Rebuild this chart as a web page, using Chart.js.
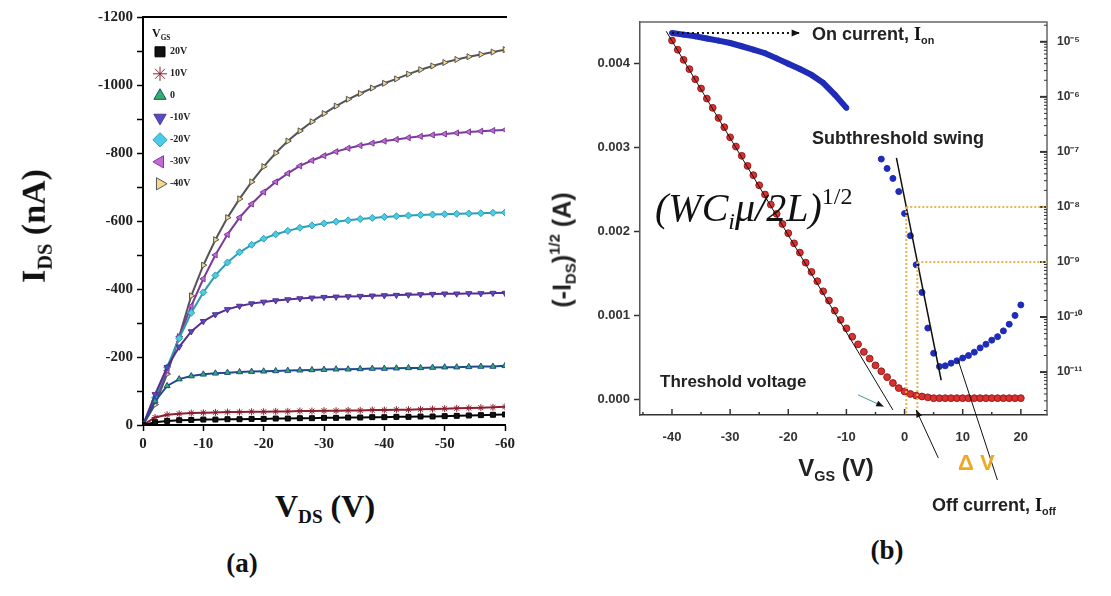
<!DOCTYPE html>
<html>
<head>
<meta charset="utf-8">
<script src="https://cdn.jsdelivr.net/npm/chart.js@4.4.1/dist/chart.umd.min.js"></script>
<style>
    body { margin: 0; background: #fff; }
    #page { position: relative; width: 1111px; height: 596px; overflow: hidden; background: #fff; }
    .box { position: absolute; }
    .t { position: absolute; white-space: nowrap; font-family: "Liberation Sans", Arial, sans-serif; font-weight: bold; color: #222; line-height: 1; }
    .serif { font-family: "Liberation Serif", "Times New Roman", serif; color: #111; }
    .t sub { font-size: 0.6em; vertical-align: -0.35em; }
    .t sup { font-size: 0.6em; vertical-align: 0.7em; }
</style>
</head>
<body>
<div id="page">
    <div class="box" style="left:0;top:0;width:540px;height:470px"><canvas id="outputChart" width="540" height="470"></canvas></div>
    <div class="box" style="left:540px;top:0;width:571px;height:480px"><canvas id="transferChart" width="571" height="480"></canvas></div>

    <!-- panel (a) text -->
    <div class="t serif" style="left:36px;top:226px;font-size:34px;transform:translate(-50%,-50%) rotate(-90deg)">I<sub>DS</sub> (nA)</div>
    <div class="t serif" style="left:325px;top:508px;font-size:32px;transform:translate(-50%,-50%)">V<sub>DS</sub> (V)</div>
    <div class="t serif" style="left:152px;top:27px;font-size:12px">V<sub>GS</sub></div>
    <div class="t serif" style="left:242px;top:563px;font-size:27px;transform:translate(-50%,-50%)">(a)</div>

    <!-- panel (b) text -->
    <div class="t" style="left:562px;top:250px;font-size:25px;transform:translate(-50%,-50%) rotate(-90deg)">(-I<sub>DS</sub>)<sup>1/2</sup> (A)</div>
    <div class="t" style="left:836px;top:470px;font-size:24px;transform:translate(-50%,-50%)">V<sub>GS</sub> (V)</div>
    <div class="t" style="left:812px;top:25px;font-size:18px">On current, <span class="serif">I</span><sub>on</sub></div>
    <div class="t" style="left:812px;top:129px;font-size:18px">Subthreshold swing</div>
    <div class="t serif" style="left:655px;top:184px;font-size:40px;font-weight:normal"><i>(WC<sub>i</sub>μ/2L)</i><sup>1/2</sup></div>
    <div class="t" style="left:660px;top:373px;font-size:17px">Threshold voltage</div>
    <div class="t" style="left:958px;top:452px;font-size:22px;color:#f0a820">Δ V</div>
    <div class="t" style="left:932px;top:496px;font-size:18px">Off current, <span class="serif">I</span><sub>off</sub></div>
    <div class="t serif" style="left:887px;top:550px;font-size:27px;transform:translate(-50%,-50%)">(b)</div>
</div>

<script>
// ---------- panel (a): output curves ----------
const vdsSweep = [0, -2, -4, -6, -8, -10, -12, -14, -16, -18, -20, -22, -24, -26, -28, -30,
    -32, -34, -36, -38, -40, -42, -44, -46, -48, -50, -52, -54, -56, -58, -60];
const gateLabels = ["20V", "10V", "0", "-10V", "-20V", "-30V", "-40V"];
const idsGate20 = [0, -8, -12, -14, -15, -16, -16, -17, -17, -18, -18, -19, -19, -20, -20, -21,
    -21, -22, -22, -23, -23, -24, -24, -25, -25, -26, -27, -28, -29, -30, -31];
const idsGate10 = [0, -22, -30, -33, -35, -36, -37, -38, -38, -39, -39, -40, -40, -41, -41, -42,
    -42, -43, -43, -44, -44, -45, -45, -46, -47, -48, -49, -50, -51, -52, -54];
const idsGate0 = [0, -70, -115, -135, -144, -149, -152, -154, -156, -157, -158, -159, -160, -161, -162, -163,
    -164, -164, -165, -166, -166, -167, -168, -168, -169, -170, -170, -171, -172, -172, -174];
const idsGateM10 = [0, -90, -170, -230, -275, -305, -325, -340, -350, -357, -362, -366, -369, -372, -374, -376,
    -377, -378, -379, -380, -381, -382, -383, -384, -385, -386, -386, -387, -387, -388, -388];
const idsGateM20 = [0, -80, -170, -255, -330, -390, -440, -478, -508, -530, -548, -561, -571, -580, -587, -593,
    -598, -602, -606, -609, -612, -614, -616, -618, -619, -620, -621, -622, -623, -624, -625];
const idsGateM30 = [0, -70, -160, -260, -350, -430, -500, -560, -610, -650, -685, -715, -740, -762, -778, -792,
    -804, -814, -822, -829, -835, -840, -845, -849, -853, -856, -859, -862, -864, -866, -868];
const idsGateM40 = [0, -60, -150, -260, -380, -470, -545, -610, -665, -715, -760, -800, -835, -865, -892, -916,
    -938, -958, -975, -991, -1005, -1018, -1032, -1045, -1056, -1066, -1075, -1083, -1090, -1097, -1104];
const outputTicksY = [0, -200, -400, -600, -800, -1000, -1200];

// ---------- panel (b): transfer curve ----------
const vgsSweep = [-40, -39, -38, -37, -36, -35, -34, -33, -32, -31, -30, -29, -28, -27, -26, -25, -24, -23, -22, -21,
    -20, -19, -18, -17, -16, -15, -14, -13, -12, -11, -10, -9, -8, -7, -6, -5, -4, -3, -2, -1,
    0, 1, 2, 3, 4, 5, 6, 7, 8, 9, 10, 11, 12, 13, 14, 15, 16, 17, 18, 19, 20];
const sqrtIds = [0.00427, 0.00416, 0.00404, 0.00393, 0.00381, 0.00370, 0.00358, 0.00347, 0.00335, 0.00324,
    0.00312, 0.00301, 0.00290, 0.00278, 0.00267, 0.00255, 0.00244, 0.00232, 0.00221, 0.00209,
    0.00198, 0.00186, 0.00175, 0.00163, 0.00152, 0.00141, 0.00129, 0.00118, 0.00106, 0.00095,
    0.00085, 0.00075, 0.00066, 0.00057, 0.00049, 0.00041, 0.00034, 0.00027, 0.00020, 0.00014,
    0.00010, 0.00007, 0.00005, 0.00004, 0.00003, 0.00002, 0.00002, 0.00002, 0.00002, 0.00002,
    0.00002, 0.00002, 0.00002, 0.00002, 0.00002, 0.00002, 0.00002, 0.00002, 0.00002, 0.00002, 0.00002];
const vgsOnBranch = [-40, -38, -36, -34, -32, -30, -28, -26, -24, -22, -20, -18, -16, -14, -12, -10];
const idsOnBranch = [1.45e-5, 1.35e-5, 1.26e-5, 1.15e-5, 1.05e-5, 9.5e-6, 8.3e-6, 7.2e-6, 6.2e-6, 5.0e-6,
    4.0e-6, 3.2e-6, 2.5e-6, 1.8e-6, 1.1e-6, 6.3e-7];
const vgsSubBranch = [-4, -3, -2, -1, 0, 1, 2, 3, 4, 5, 6, 7, 8, 9, 10, 11, 12, 13, 14, 15, 16, 17, 18, 19, 20];
const idsSubBranch = [7.4e-8, 5.0e-8, 3.3e-8, 1.9e-8, 7.6e-9, 3.0e-9, 8.9e-10, 2.8e-10, 6.3e-11, 2.2e-11,
    1.26e-11, 1.3e-11, 1.45e-11, 1.6e-11, 1.8e-11, 2.0e-11, 2.3e-11, 2.75e-11, 3.2e-11, 3.8e-11,
    4.4e-11, 5.6e-11, 7.4e-11, 1.07e-10, 1.66e-10];
const transferTicksX = [-40, -30, -20, -10, 0, 10, 20];
const transferTicksY = [0, 0.001, 0.002, 0.003, 0.004];
const logDecades = [-11, -10, -9, -8, -7, -6, -5];
// guide lines drawn on top of the data (x = V_GS)
const swingFit = [[-1.4, 7.8e-8], [6.3, 7.1e-12]];
const thresholdFit = [[-41, 0.00438], [-2, -0.00012]];
const swingLevels = [1e-8, 1e-9];

const points = (xs, ys) => xs.map((x, i) => ({ x: x, y: ys[i] }));
const supDigits = { "-": "⁻", "0": "⁰", "1": "¹", "2": "²", "3": "³", "4": "⁴", "5": "⁵", "6": "⁶", "7": "⁷", "8": "⁸", "9": "⁹" };
const superscript = (n) => String(n).split("").map((c) => supDigits[c]).join("");

function drawArrow(ctx, x1, y1, x2, y2, size) {
    ctx.beginPath();
    ctx.moveTo(x1, y1);
    ctx.lineTo(x2, y2);
    ctx.stroke();
    const a = Math.atan2(y2 - y1, x2 - x1);
    ctx.save();
    ctx.setLineDash([]);
    ctx.beginPath();
    ctx.moveTo(x2, y2);
    ctx.lineTo(x2 - size * Math.cos(a - 0.4), y2 - size * Math.sin(a - 0.4));
    ctx.lineTo(x2 - size * Math.cos(a + 0.4), y2 - size * Math.sin(a + 0.4));
    ctx.closePath();
    ctx.fill();
    ctx.restore();
}

document.addEventListener("DOMContentLoaded", () => {
    Chart.defaults.font.family = '"Liberation Sans", Arial, sans-serif';
    Chart.defaults.animation = false;

    // ---- (a) output characteristics ----
    const seriesA = [idsGate20, idsGate10, idsGate0, idsGateM10, idsGateM20, idsGateM30, idsGateM40];
    const stylesA = [
        { bg: "#111111", line: "#000000", shape: "rect", rot: 0 },
        { bg: "#c83838", line: "#8a2030", shape: "star", rot: 0 },
        { bg: "#33b060", line: "#1f4a90", shape: "triangle", rot: 0 },
        { bg: "#4a50cc", line: "#5a2c8c", shape: "triangle", rot: 180 },
        { bg: "#4ccbe8", line: "#2a9fb0", shape: "rectRot", rot: 0 },
        { bg: "#c66ad6", line: "#7a3a9a", shape: "triangle", rot: 270 },
        { bg: "#f3d98a", line: "#555555", shape: "triangle", rot: 90 },
    ];

    const frameA = {
        id: "frameA",
        afterDraw(chart) {
            const { ctx, chartArea: a } = chart;
            ctx.save();
            ctx.strokeStyle = "#000";
            ctx.lineWidth = 2;
            ctx.beginPath();
            ctx.moveTo(a.left, a.top);
            ctx.lineTo(a.right + 2, a.top);
            ctx.stroke();
            ctx.restore();
        },
    };

    new Chart(document.getElementById("outputChart"), {
        type: "scatter",
        data: {
            datasets: seriesA.map((ys, i) => ({
                label: gateLabels[i],
                data: points(vdsSweep, ys),
                showLine: true,
                borderColor: stylesA[i].line,
                backgroundColor: stylesA[i].bg,
                borderWidth: 2,
                pointStyle: stylesA[i].shape,
                pointRotation: stylesA[i].rot,
                pointRadius: 3.5,
                pointBorderWidth: 1,
            })),
        },
        options: {
            responsive: false,
            layout: { padding: { top: 17, right: 35, left: 0, bottom: 0 } },
            plugins: {
                tooltip: { enabled: false },
                legend: {
                    position: "chartArea",
                    align: "start",
                    title: { display: true, text: " ", font: { size: 14 }, padding: 9 },
                    labels: {
                        usePointStyle: true,
                        padding: 12,
                        color: "#222",
                        font: { family: '"Liberation Serif", serif', size: 10, weight: "bold" },
                    },
                },
            },
            scales: {
                x: {
                    type: "linear",
                    min: -60,
                    max: 0,
                    reverse: true,
                    afterFit: (s) => { s.height = 45; },
                    grid: { drawOnChartArea: false, tickLength: 6, color: "#000", tickWidth: 1.5 },
                    border: { color: "#000", width: 2 },
                    ticks: {
                        stepSize: 10,
                        padding: 4,
                        color: "#222",
                        font: { family: '"Liberation Serif", serif', size: 15, weight: "bold" },
                    },
                },
                y: {
                    type: "linear",
                    min: -1200,
                    max: 0,
                    reverse: true,
                    afterFit: (s) => { s.width = 143; },
                    grid: { drawOnChartArea: false, tickLength: 6, color: "#000", tickWidth: 1.5 },
                    border: { color: "#000", width: 2 },
                    ticks: {
                        stepSize: 100,
                        padding: 4,
                        color: "#222",
                        font: { family: '"Liberation Serif", serif', size: 15, weight: "bold" },
                        callback: (v) => (outputTicksY.includes(v) ? v : ""),
                    },
                },
            },
        },
        plugins: [frameA],
    });

    // ---- (b) transfer characteristics ----
    const decorB = {
        id: "decorB",
        afterDatasetsDraw(chart) {
            const { ctx, chartArea: a, scales } = chart;
            const x = scales.x, y = scales.y, y2 = scales.y2;
            ctx.save();

            // frame and inward ticks
            ctx.strokeStyle = "#666";
            ctx.lineWidth = 1.5;
            ctx.beginPath();
            ctx.moveTo(a.left, a.top);
            ctx.lineTo(a.right, a.top);
            ctx.lineTo(a.right, a.bottom);
            ctx.stroke();
            ctx.strokeStyle = "#333";
            for (let v = -45; v <= 25; v += 5) {
                const px = x.getPixelForValue(v);
                if (px < a.left || px > a.right) continue;
                const len = v % 10 === 0 ? 6 : 3;
                ctx.beginPath();
                ctx.moveTo(px, a.bottom);
                ctx.lineTo(px, a.bottom - len);
                ctx.stroke();
            }
            for (let e = -12; e <= -5; e++) {
                for (let m = 1; m <= 9; m++) {
                    const v = m * Math.pow(10, e);
                    if (v < y2.min || v > y2.max) continue;
                    const py = y2.getPixelForValue(v);
                    ctx.lineWidth = m === 1 ? 2 : 1;
                    ctx.beginPath();
                    ctx.moveTo(a.right, py);
                    ctx.lineTo(a.right - (m === 1 ? 7 : 3), py);
                    ctx.stroke();
                }
            }

            // threshold tangent
            ctx.strokeStyle = "#111";
            ctx.lineWidth = 1;
            ctx.beginPath();
            ctx.moveTo(x.getPixelForValue(thresholdFit[0][0]), y.getPixelForValue(thresholdFit[0][1]));
            ctx.lineTo(x.getPixelForValue(thresholdFit[1][0]), y.getPixelForValue(thresholdFit[1][1]));
            ctx.stroke();

            // subthreshold swing fit
            ctx.lineWidth = 1.5;
            ctx.beginPath();
            ctx.moveTo(x.getPixelForValue(swingFit[0][0]), y2.getPixelForValue(swingFit[0][1]));
            ctx.lineTo(x.getPixelForValue(swingFit[1][0]), y2.getPixelForValue(swingFit[1][1]));
            ctx.stroke();

            // delta V guides where the fit crosses each decade
            const fitSlope = (Math.log10(swingFit[1][1]) - Math.log10(swingFit[0][1])) / (swingFit[1][0] - swingFit[0][0]);
            ctx.strokeStyle = "#e6b450";
            ctx.lineWidth = 2;
            ctx.setLineDash([2, 2]);
            swingLevels.forEach((lvl) => {
                const v = swingFit[0][0] + (Math.log10(lvl) - Math.log10(swingFit[0][1])) / fitSlope;
                const px = x.getPixelForValue(v);
                const py = y2.getPixelForValue(lvl);
                ctx.beginPath();
                ctx.moveTo(px, py);
                ctx.lineTo(a.right, py);
                ctx.moveTo(px, py);
                ctx.lineTo(px, a.bottom);
                ctx.stroke();
            });

            // on-current arrow
            ctx.strokeStyle = "#111";
            ctx.fillStyle = "#111";
            ctx.lineWidth = 2;
            ctx.setLineDash([2, 3]);
            const onY = y2.getPixelForValue(idsOnBranch[0]);
            drawArrow(ctx, x.getPixelForValue(vgsOnBranch[0]), onY, x.getPixelForValue(-18), onY, 9);

            // threshold pointer
            ctx.setLineDash([]);
            ctx.lineWidth = 1;
            ctx.strokeStyle = "#3a9a9a";
            ctx.fillStyle = "#111";
            drawArrow(ctx, x.getPixelForValue(-8), y.getPixelForValue(0.00006), x.getPixelForValue(-3.6), y.getPixelForValue(-0.00008), 8);

            // delta V pointer and off-current pointer
            ctx.strokeStyle = "#111";
            drawArrow(ctx, x.getPixelForValue(5.8), y.getPixelForValue(-0.00069), x.getPixelForValue(2), y.getPixelForValue(-0.00012), 8);
            drawArrow(ctx, x.getPixelForValue(9.2), y2.getPixelForValue(1.66e-11), x.getPixelForValue(17.1), y.getPixelForValue(-0.00119), 8);

            ctx.restore();
        },
    };

    new Chart(document.getElementById("transferChart"), {
        type: "scatter",
        data: {
            datasets: [
                {
                    label: "sqrt(-IDS)",
                    data: points(vgsSweep, sqrtIds),
                    yAxisID: "y",
                    backgroundColor: "#d93030",
                    borderColor: "#9a1818",
                    pointRadius: 3.4,
                    pointBorderWidth: 1,
                },
                {
                    label: "log(-IDS) on",
                    data: points(vgsOnBranch, idsOnBranch),
                    yAxisID: "y2",
                    showLine: true,
                    borderColor: "#1f2cb8",
                    backgroundColor: "#1f2cb8",
                    borderWidth: 6,
                    pointRadius: 2.5,
                    pointBorderWidth: 1,
                },
                {
                    label: "log(-IDS) sub",
                    data: points(vgsSubBranch, idsSubBranch),
                    yAxisID: "y2",
                    borderColor: "#1f2cb8",
                    backgroundColor: "#1f2cb8",
                    pointRadius: 3,
                },
            ],
        },
        options: {
            responsive: false,
            layout: { padding: { top: 22, right: 0, left: 0, bottom: 0 } },
            plugins: { legend: { display: false }, tooltip: { enabled: false } },
            scales: {
                x: {
                    type: "linear",
                    min: -45.5,
                    max: 24.5,
                    afterFit: (s) => { s.height = 65; },
                    afterBuildTicks: (s) => { s.ticks = transferTicksX.map((v) => ({ value: v })); },
                    grid: { drawOnChartArea: false, drawTicks: false },
                    border: { color: "#333", width: 1.5 },
                    ticks: { padding: 15, color: "#333", font: { size: 13, weight: "bold" } },
                },
                y: {
                    type: "linear",
                    position: "left",
                    min: -0.00018,
                    max: 0.00449,
                    afterFit: (s) => { s.width = 100; },
                    afterBuildTicks: (s) => { s.ticks = transferTicksY.map((v) => ({ value: v })); },
                    grid: { drawOnChartArea: false, tickLength: 6, color: "#333", tickWidth: 1.5 },
                    border: { color: "#555", width: 1.5 },
                    ticks: {
                        padding: 4,
                        color: "#333",
                        font: { size: 13, weight: "bold" },
                        callback: (v) => v.toFixed(3),
                    },
                },
                y2: {
                    type: "logarithmic",
                    position: "right",
                    min: 1.66e-12,
                    max: 2.29e-5,
                    afterFit: (s) => { s.width = 64; },
                    afterBuildTicks: (s) => { s.ticks = logDecades.map((e) => ({ value: Math.pow(10, e) })); },
                    grid: { drawOnChartArea: false, drawTicks: false },
                    border: { display: false },
                    ticks: {
                        padding: 10,
                        color: "#333",
                        font: { size: 12, weight: "bold" },
                        callback: (v) => "10" + superscript(Math.round(Math.log10(v))),
                    },
                },
            },
        },
        plugins: [decorB],
    });
});
</script>
</body>
</html>
